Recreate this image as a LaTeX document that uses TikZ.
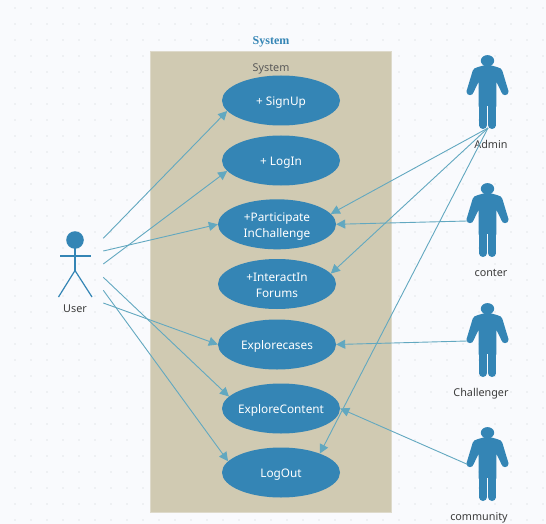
\documentclass[tikz,border=0pt]{standalone}
\usepackage{fontspec}
\setmainfont{Noto Sans}
\newfontfamily\titlefont{Liberation Serif}
\usetikzlibrary{arrows.meta}
\usetikzlibrary{shapes.geometric}
\definecolor{pagebg}{HTML}{F9FAFD}
\definecolor{griddot}{HTML}{E4E6EA}
\definecolor{panelbg}{HTML}{D0CAB2}
\definecolor{panelline}{HTML}{DEDACB}
\definecolor{usecase}{HTML}{3485B5}
\definecolor{assocline}{HTML}{62A8C0}
\definecolor{labeltext}{HTML}{3C3C3C}
\tikzset{
  usecasenode/.style={ellipse, fill=usecase, text=white, font=\fontsize{11.8}{16}\selectfont, align=center, inner xsep=-6pt, inner ysep=0pt, minimum width=118pt, minimum height=50pt, text height=10.6pt, text depth=0pt},
  twolinenode/.style={usecasenode, text height=26pt, text depth=0pt},
  actorlabel/.style={text=labeltext, font=\fontsize{10.8}{13}\selectfont, inner sep=0pt},
  assoc/.style={draw=assocline, line width=0.9pt, -{Triangle[length=9pt,width=9pt,fill=assocline]}},
  person/.pic={
    \fill[usecase] (0,0) ellipse [x radius=6.7, y radius=5.6];
    \fill[usecase] (-3,4.5) -- (3,4.5) -- (10,6.5) .. controls (12.5,7.2) and (14,8) .. (14.8,10) -- (20.9,30.2) -- (14.2,32) -- (8.8,21) -- (8.8,46) -- (-8.8,46) -- (-8.8,21) -- (-14.2,32) -- (-20.9,30.2) -- (-14.8,10) .. controls (-14,8) and (-12.5,7.2) .. (-10,6.5) -- cycle;
    \fill[usecase] (-17.5,31) circle [radius=3.5];
    \fill[usecase] (17.5,31) circle [radius=3.5];
    \draw[usecase, line width=7.6pt, line cap=round] (-4.6,44) -- (-4.6,64.5);
    \draw[usecase, line width=7.6pt, line cap=round] (4.6,44) -- (4.6,64.5);
    \draw[pagebg, line width=1.5pt] (0,45.3) -- (0,69);
  },
}
\begin{document}
\begin{tikzpicture}[x=1pt, y=-1pt]
  % Page and dot grid
  \fill[pagebg] (0,0) rectangle (546,524);
  \foreach \x in {15,31,...,543}
    \foreach \y in {8,24,...,520}
      \fill[griddot] (\x,\y) circle [radius=0.9];

  % System panel
  \draw[panelline, fill=panelbg] (150.5,51.7) rectangle (391.5,512.3);
  \node (title) at (271,42) [text=usecase, font=\titlefont\fontsize{12}{14}\selectfont\bfseries, inner sep=0pt]{System};
  \node (panellabel) at (271,68.5) [text=labeltext!85, font=\fontsize{10.8}{13}\selectfont, inner sep=0pt]{System};

  % Use cases
  \node[usecasenode] (signup) at (281,100.5) {+ SignUp};
  \node[usecasenode] (login) at (281,160.5) {+ LogIn};
  \node[twolinenode] (participate) at (277,224.3) {+Participate\\InChallenge};
  \node[twolinenode] (interact) at (277,284) {+InteractIn\\Forums};
  \node[usecasenode] (explorecases) at (277,344.5) {Explorecases};
  \node[usecasenode] (explorecontent) at (281,408.5) {ExploreContent};
  \node[usecasenode] (logout) at (281,472.5) {LogOut};

  % User
  \fill[usecase] (75,240) circle [radius=8.8];
  \draw[usecase, line width=1.2pt] (75,248) -- (75,270.5);
  \draw[usecase, line width=1.2pt] (60,256) -- (90.5,256);
  \draw[usecase, line width=1.2pt] (58.5,297) -- (75,270.5) -- (92,297);
  \node[actorlabel] (userlabel) at (75,309) {User};

  % Other actors
  \pic at (487.5,60.7) {person};
  \pic at (487.5,188.7) {person};
  \pic at (487.5,308.7) {person};
  \pic at (487.5,432.7) {person};
  \node[actorlabel] (adminlabel) at (491,144.5) {Admin};
  \node[actorlabel] (conterlabel) at (491,273) {conter};
  \node[actorlabel] (challengerlabel) at (481,393.5) {Challenger};
  \node[actorlabel] (communitylabel) at (479,517.5) {community};

  % Free ends
  \coordinate (user1) at (103.3,238.3);
  \coordinate (user2) at (103.3,251);
  \coordinate (user3) at (103.3,264);
  \coordinate (user4) at (103.3,277.3);
  \coordinate (user5) at (103.3,290.3);
  \coordinate (user6) at (103.3,303);
  \coordinate (admin) at (488,128);
  \coordinate (conter) at (467.3,221);
  \coordinate (challenger) at (467.3,341);
  \coordinate (community) at (467.3,464.3);

  % Edges
  \draw[assoc] (user1) -- (signup.191);
  \draw[assoc] (user3) -- (login.191);
  \draw[assoc] (user2) -- (participate.west);
  \draw[assoc] (user6) -- (explorecases.west);
  \draw[assoc] (user4) -- (explorecontent.167.5);
  \draw[assoc] (user5) -- (logout.168.5);
  \draw[assoc] (admin) -- (participate.11.5);
  \draw[assoc] (admin) -- (interact.11.5);
  \draw[assoc] (admin) -- (logout.26);
  \draw[assoc] (conter) -- (participate.east);
  \draw[assoc] (challenger) -- (explorecases.east);
  \draw[assoc] (community) -- (explorecontent.east);
\end{tikzpicture}
\end{document}
